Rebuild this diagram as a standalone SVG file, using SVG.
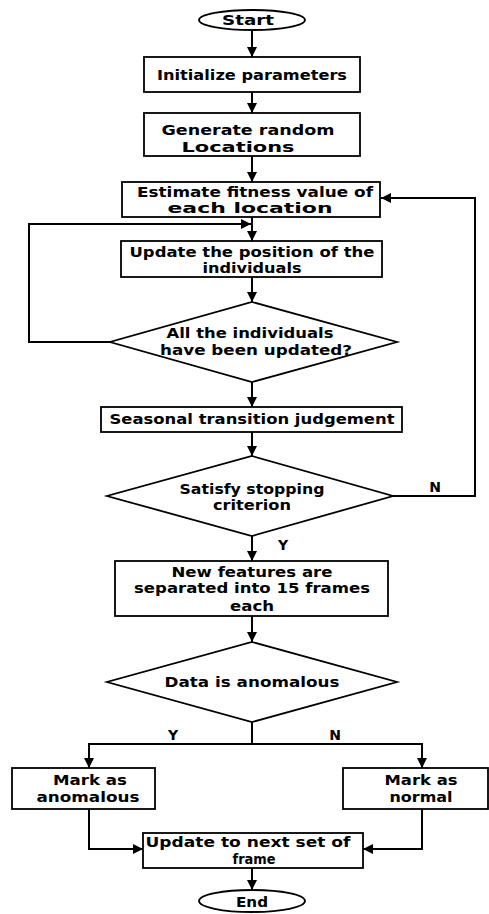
<svg xmlns="http://www.w3.org/2000/svg" width="489" height="914" viewBox="0 0 489 914">
<style>
.n{fill:#fff;stroke:#000;stroke-width:1.8}
.t{font-family:"DejaVu Sans","Liberation Sans",sans-serif;font-weight:bold;font-size:14px;fill:#000;text-anchor:middle}
.c{fill:none;stroke:#000;stroke-width:2}
</style>
<defs>
<marker id="ah" markerUnits="userSpaceOnUse" markerWidth="10" markerHeight="10" refX="10" refY="5" orient="auto">
<path d="M0,0 L10,5 L0,10 z" fill="#000"/>
</marker>
</defs>
<rect width="489" height="914" fill="#fff"/>
<g id="connectors">
<path class="c" d="M252,30 V57" marker-end="url(#ah)"/>
<path class="c" d="M252,92 V113" marker-end="url(#ah)"/>
<path class="c" d="M252,156 V182" marker-end="url(#ah)"/>
<path class="c" d="M252,217 V241" marker-end="url(#ah)"/>
<path class="c" d="M252,277 V302" marker-end="url(#ah)"/>
<path class="c" d="M110,342 H29 V224 H251" marker-end="url(#ah)"/>
<path class="c" d="M252,382 V407" marker-end="url(#ah)"/>
<path class="c" d="M252,432 V456" marker-end="url(#ah)"/>
<path class="c" d="M393,496 H475 V198 H381" marker-end="url(#ah)"/>
<path class="c" d="M252,536 V561" marker-end="url(#ah)"/>
<path class="c" d="M252,616 V642" marker-end="url(#ah)"/>
<path class="c" d="M252,722 V744"/>
<path class="c" d="M252,744 H89 V768" marker-end="url(#ah)"/>
<path class="c" d="M252,744 H422 V768" marker-end="url(#ah)"/>
<path class="c" d="M89,809 V849 H143" marker-end="url(#ah)"/>
<path class="c" d="M422,809 V849 H363" marker-end="url(#ah)"/>
<path class="c" d="M252,868 V890" marker-end="url(#ah)"/>
<text class="t" x="435" y="492">N</text>
<text class="t" x="283" y="550">Y</text>
<text class="t" x="173" y="740">Y</text>
<text class="t" x="335" y="740">N</text>
</g>
<g id="start">
<ellipse class="n" cx="252" cy="20" rx="53" ry="10"/>
<text class="t" x="248" y="25" textLength="52" lengthAdjust="spacingAndGlyphs">Start</text>
</g>
<g id="init">
<rect class="n" x="144" y="57" width="216" height="35"/>
<text class="t" x="252" y="80" textLength="190" lengthAdjust="spacingAndGlyphs">Initialize parameters</text>
</g>
<g id="generate">
<rect class="n" x="144" y="113" width="216" height="43"/>
<text class="t" x="248" y="135" textLength="173" lengthAdjust="spacingAndGlyphs">Generate random</text>
<text class="t" x="238" y="152" textLength="113" lengthAdjust="spacingAndGlyphs">Locations</text>
</g>
<g id="estimate">
<rect class="n" x="122" y="182" width="258" height="35"/>
<text class="t" x="255" y="197" textLength="236" lengthAdjust="spacingAndGlyphs">Estimate fitness value of</text>
<text class="t" x="250" y="213" textLength="165" lengthAdjust="spacingAndGlyphs">each location</text>
</g>
<g id="update">
<rect class="n" x="121" y="241" width="261" height="36"/>
<text class="t" x="252" y="257" textLength="245" lengthAdjust="spacingAndGlyphs">Update the position of the</text>
<text class="t" x="252" y="273" textLength="99" lengthAdjust="spacingAndGlyphs">individuals</text>
</g>
<g id="all-updated">
<polygon class="n" points="252,302 397,342 252,382 110,342"/>
<text class="t" x="250" y="338" textLength="167" lengthAdjust="spacingAndGlyphs">All the individuals</text>
<text class="t" x="256" y="355" textLength="192" lengthAdjust="spacingAndGlyphs">have been updated?</text>
</g>
<g id="seasonal">
<rect class="n" x="101" y="407" width="301" height="25"/>
<text class="t" x="252" y="424" textLength="285" lengthAdjust="spacingAndGlyphs">Seasonal transition judgement</text>
</g>
<g id="stopping">
<polygon class="n" points="252,456 393,496 252,536 107,496"/>
<text class="t" x="252" y="494" textLength="145" lengthAdjust="spacingAndGlyphs">Satisfy stopping</text>
<text class="t" x="252" y="510" textLength="78" lengthAdjust="spacingAndGlyphs">criterion</text>
</g>
<g id="features">
<rect class="n" x="115" y="561" width="273" height="55"/>
<text class="t" x="252" y="577" textLength="161" lengthAdjust="spacingAndGlyphs">New features are</text>
<text class="t" x="252" y="593" textLength="236" lengthAdjust="spacingAndGlyphs">separated into 15 frames</text>
<text class="t" x="252" y="611" textLength="44" lengthAdjust="spacingAndGlyphs">each</text>
</g>
<g id="anomalous-check">
<polygon class="n" points="252,642 397,682 252,722 107,682"/>
<text class="t" x="252" y="687" textLength="175" lengthAdjust="spacingAndGlyphs">Data is anomalous</text>
</g>
<g id="mark-anomalous">
<rect class="n" x="12" y="768" width="143" height="41"/>
<text class="t" x="90" y="785" textLength="74" lengthAdjust="spacingAndGlyphs">Mark as</text>
<text class="t" x="88" y="802" textLength="103" lengthAdjust="spacingAndGlyphs">anomalous</text>
</g>
<g id="mark-normal">
<rect class="n" x="343" y="768" width="145" height="41"/>
<text class="t" x="421" y="785" textLength="73" lengthAdjust="spacingAndGlyphs">Mark as</text>
<text class="t" x="421" y="802" textLength="63" lengthAdjust="spacingAndGlyphs">normal</text>
</g>
<g id="next-frame">
<rect class="n" x="143" y="833" width="220" height="35"/>
<text class="t" x="248" y="847" textLength="205" lengthAdjust="spacingAndGlyphs">Update to next set of</text>
<text class="t" x="254" y="864" textLength="43" lengthAdjust="spacingAndGlyphs">frame</text>
</g>
<g id="end">
<ellipse class="n" cx="252" cy="901" rx="53" ry="11"/>
<text class="t" x="252" y="907" textLength="32" lengthAdjust="spacingAndGlyphs">End</text>
</g>
</svg>
